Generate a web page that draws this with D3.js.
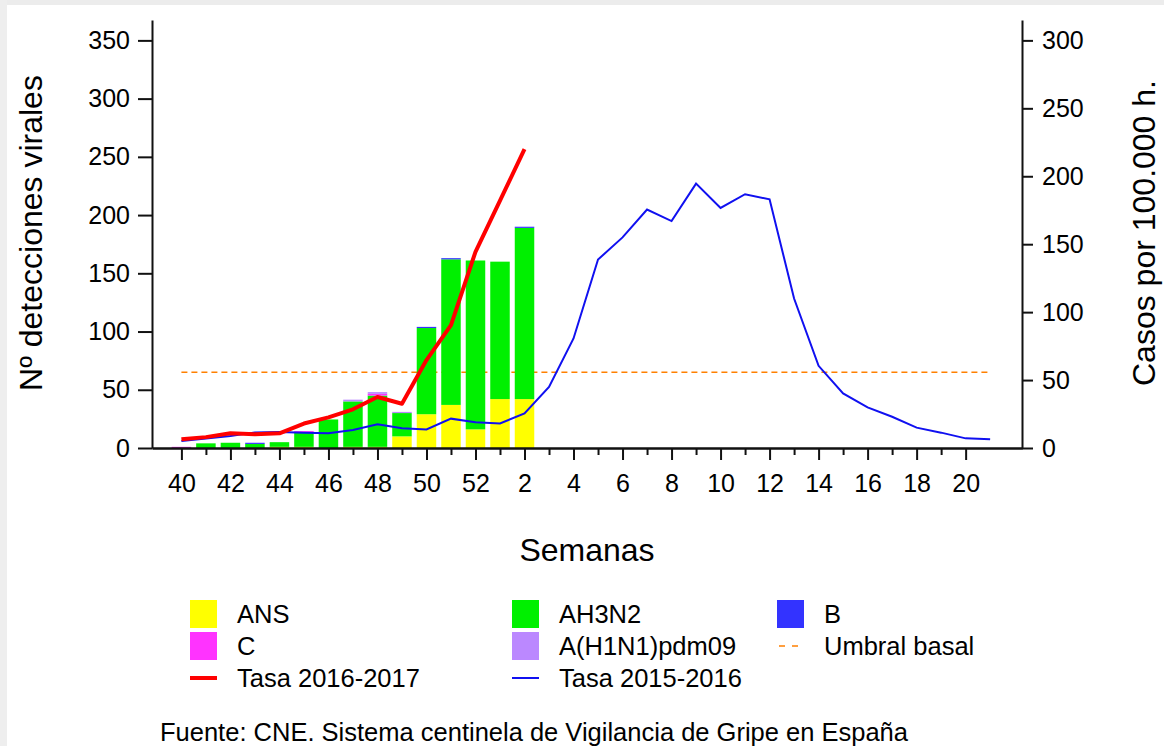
<!DOCTYPE html>
<html>
<head>
<meta charset="utf-8">
<script src="https://cdn.jsdelivr.net/npm/d3@7"></script>
<style>
  body { margin:0; background:#fff; }
  svg { display:block; font-family:"Liberation Sans", Arial, sans-serif; }
  .axis path, .axis line { stroke:#111; stroke-width:2; }
  .axis text { font-size:25px; fill:#000; font-family:"Liberation Sans", Arial, sans-serif; }
</style>
</head>
<body>
<div id="chart"></div>
<script>
// Gripe: detecciones virales (barras, eje izq.) y tasas (lineas, eje dcho.)

// ---- data ----
const weeks = [40,41,42,43,44,45,46,47,48,49,50,51,52,1,2,3,4,5,6,7,8,9,10,11,12,13,14,15,16,17,18,19,20,21];
const barWeeks = [40,41,42,43,44,45,46,47,48,49,50,51,52,1,2];

// detecciones por tipo (semanas de barWeeks)
const ans   = [0,0,0,0,1,1,0,1,1,10,29,37,16,42,42];
const ah3n2 = [0,4,4.5,3.5,4,12,24.5,39,44,20,74,125,145,118,147];
const bVir  = [0,0,0,1,0,0,0,0,0,0,1,1,0,0,1];
const cVir  = [1,0,0,0,0,1.5,0,0,1.5,0,0,0,0,0,0];
const h1n1  = [0,0,0,0,0,0,0,1.5,1.5,1,0,0,0,0,0];

// tasas por 100.000 h.
const tasa1617 = [6.4,8,10.8,10.2,10.8,18,22.5,28.5,37.5,32.6,64.7,90.4,144.4,182,220];
const tasa1516 = [5.1,6.9,8.8,11.5,11.8,11.3,10.8,13.2,17.4,14.5,13.7,21.6,18.9,
                  18.1,25.5,45,80.6,138.7,155,175.5,167,194.6,176.7,186.8,183,110,60.5,40.2,29.9,23,15,11.3,7.1,6.4];
const umbral = 55.8;

const leftTicks  = [0,50,100,150,200,250,300,350];
const rightTicks = [0,50,100,150,200,250,300];
const tickWeeks  = weeks.slice(0, 33); // 40 .. 20

const keys   = ["ANS","AH3N2","B","C","A(H1N1)pdm09"];
const colors = {"ANS":"#FFFF00","AH3N2":"#00F000","B":"#3333FF","C":"#FF33FF","A(H1N1)pdm09":"#BB88FF"};

// ---- layout ----
const W = 1164, H = 746;
const svg = d3.select("#chart").append("svg").attr("width", W).attr("height", H);
svg.append("rect").attr("width", W).attr("height", H).attr("fill", "#fff");
// grey window frame (screenshot edge)
svg.append("rect").attr("x",0).attr("y",0).attr("width",W).attr("height",5).attr("fill","#ececec");
svg.append("rect").attr("x",0).attr("y",0).attr("width",7).attr("height",H).attr("fill","#eeeeee");

const x  = d3.scaleLinear().domain([-1.2, 34.3]).range([152, 1022]);
const yL = d3.scaleLinear().domain([0, 367.5]).range([448, 20]);
const yR = d3.scaleLinear().domain([0, 315]).range([448, 20]);
const xi = w => x(weeks.indexOf(w));

// umbral basal (under bars)
svg.append("line")
  .attr("x1", xi(40)).attr("x2", xi(21))
  .attr("y1", yR(umbral)).attr("y2", yR(umbral))
  .attr("stroke", "#FF8000").attr("stroke-width", 1.5)
  .attr("stroke-dasharray", "6,4");

// stacked bars
const table = barWeeks.map((w, i) => ({
  week: w, "ANS": ans[i], "AH3N2": ah3n2[i], "B": bVir[i], "C": cVir[i], "A(H1N1)pdm09": h1n1[i]
}));
const series = d3.stack().keys(keys)(table);
const bw = 19.5;
svg.append("g").selectAll("g").data(series).join("g")
  .attr("fill", d => colors[d.key])
  .selectAll("rect").data(d => d).join("rect")
    .attr("x", d => xi(d.data.week) - bw/2)
    .attr("width", bw)
    .attr("y", d => yL(d[1]))
    .attr("height", d => yL(d[0]) - yL(d[1]));

// lines
const line = d3.line().x(d => xi(d.w)).y(d => yR(d.v));
svg.append("path")
  .datum(weeks.map((w, i) => ({w, v: tasa1516[i]})))
  .attr("d", line).attr("fill", "none").attr("stroke", "#1010F0").attr("stroke-width", 2);
svg.append("path")
  .datum(barWeeks.map((w, i) => ({w, v: tasa1617[i]})))
  .attr("d", line).attr("fill", "none").attr("stroke", "#FF0000").attr("stroke-width", 4)
  .attr("stroke-linejoin", "round");

// axes
const ax = svg.append("g").attr("class", "axis");
ax.append("g").attr("transform", "translate(152,0)")
  .call(d3.axisLeft(yL).tickValues(leftTicks).tickSize(14).tickPadding(8).tickSizeOuter(0));
ax.append("g").attr("transform", "translate(1022,0)")
  .call(d3.axisRight(yR).tickValues(rightTicks).tickSize(11).tickPadding(9).tickSizeOuter(0));

const xIdx = d3.scaleLinear().domain(x.domain()).range(x.range());
// minor ticks (odd weeks), then major ticks with labels (even weeks)
ax.append("g").attr("transform", "translate(0,448)")
  .call(d3.axisBottom(xIdx).tickValues(tickWeeks.filter(w => w % 2).map(w => weeks.indexOf(w)))
    .tickSize(7).tickSizeOuter(0).tickFormat(""));
ax.append("g").attr("transform", "translate(0,448)")
  .call(d3.axisBottom(xIdx).tickValues(tickWeeks.filter(w => w % 2 === 0).map(w => weeks.indexOf(w)))
    .tickSize(12).tickPadding(14).tickSizeOuter(0).tickFormat(i => weeks[i]));

// axis titles
svg.append("text").attr("transform", "translate(42,233) rotate(-90)")
  .attr("text-anchor", "middle").attr("font-size", 32).text("Nº detecciones virales");
svg.append("text").attr("transform", "translate(1155,233) rotate(-90)")
  .attr("text-anchor", "middle").attr("font-size", 32).text("Casos por 100.000 h.");
svg.append("text").attr("x", 587).attr("y", 561)
  .attr("text-anchor", "middle").attr("font-size", 32).text("Semanas");

// legend
const legItems = [
  {label:"ANS", type:"box", color:colors["ANS"]},
  {label:"AH3N2", type:"box", color:colors["AH3N2"]},
  {label:"B", type:"box", color:colors["B"]},
  {label:"C", type:"box", color:colors["C"]},
  {label:"A(H1N1)pdm09", type:"box", color:colors["A(H1N1)pdm09"]},
  {label:"Umbral basal", type:"dash", color:"#FF8000"},
  {label:"Tasa 2016-2017", type:"line", color:"#FF0000", w:4},
  {label:"Tasa 2015-2016", type:"line", color:"#1010F0", w:2}
];
const colX = [190, 512, 777];
const rowY = [614, 646, 678];
const leg = svg.append("g");
legItems.forEach((d, i) => {
  const cx = colX[i % 3], cy = rowY[Math.floor(i / 3)];
  if (d.type === "box") {
    leg.append("rect").attr("x", cx).attr("y", cy - 14).attr("width", 27).attr("height", 28).attr("fill", d.color);
  } else if (d.type === "line") {
    leg.append("line").attr("x1", cx).attr("x2", cx + 27).attr("y1", cy).attr("y2", cy)
      .attr("stroke", d.color).attr("stroke-width", d.w);
  } else {
    leg.append("line").attr("x1", cx).attr("x2", cx + 27).attr("y1", cy).attr("y2", cy)
      .attr("stroke", d.color).attr("stroke-width", 1.5).attr("stroke-dasharray", "6,7").attr("stroke-dashoffset", -2);
  }
  leg.append("text").attr("x", cx + 47).attr("y", cy + 9).attr("font-size", 25.5).text(d.label);
});

svg.append("text").attr("x", 160).attr("y", 741).attr("font-size", 25.5)
  .text("Fuente: CNE. Sistema centinela de Vigilancia de Gripe en España");
</script>
</body>
</html>
